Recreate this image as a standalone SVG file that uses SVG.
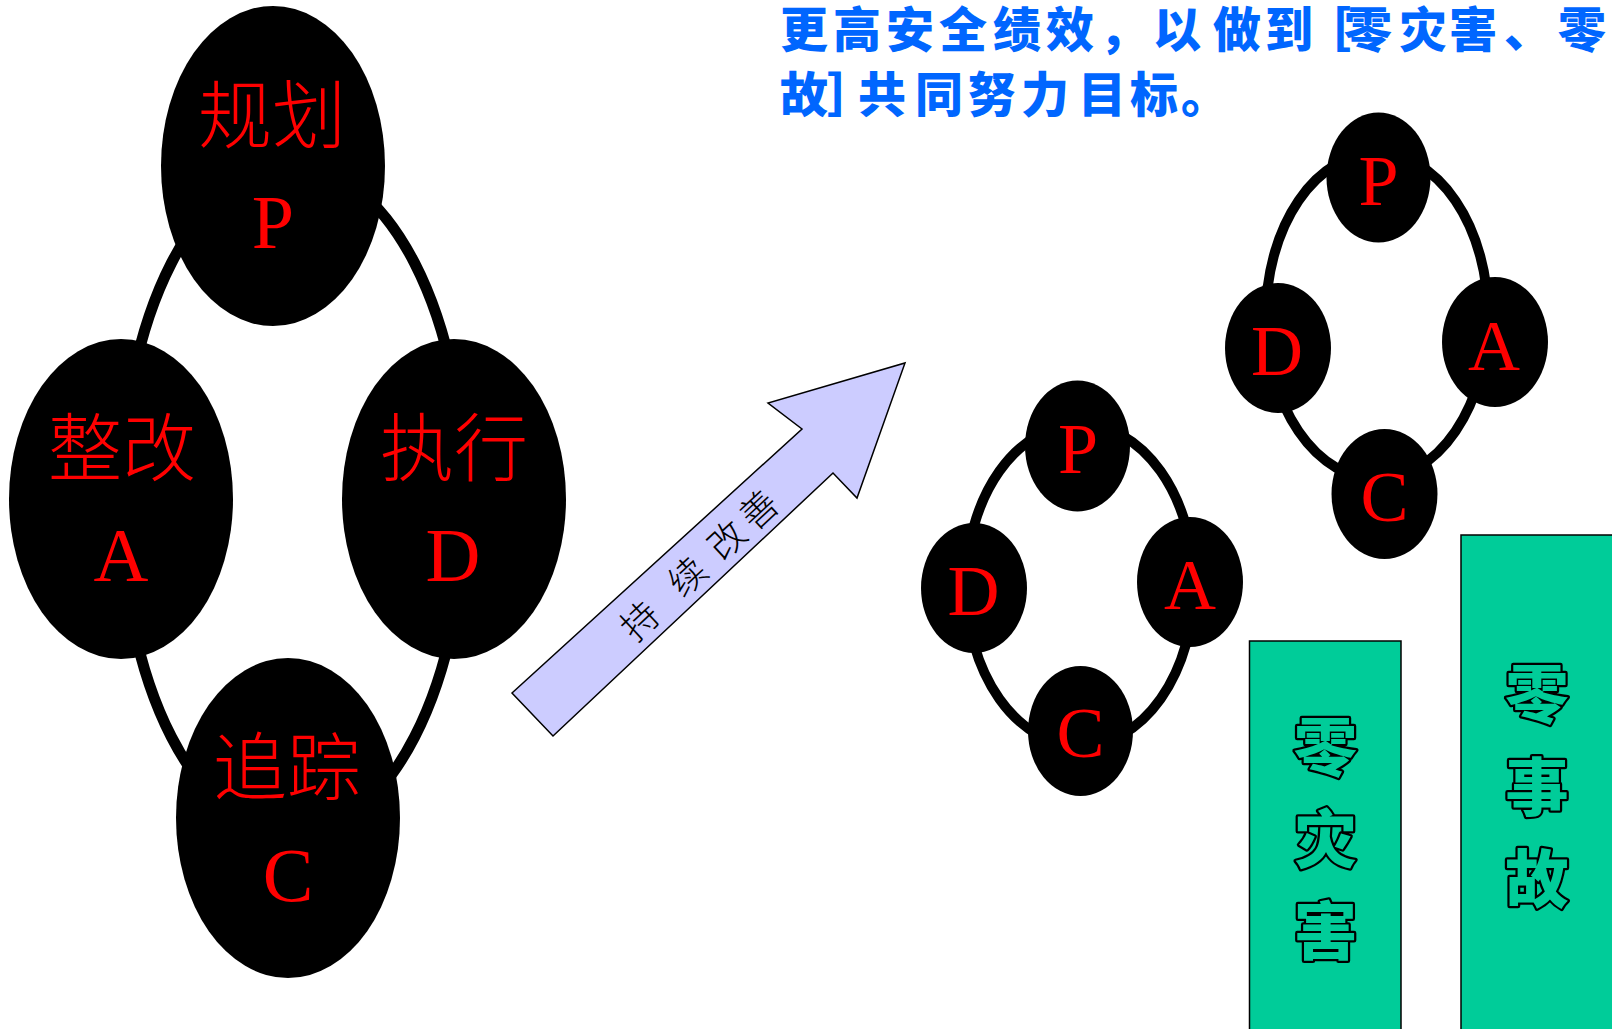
<svg xmlns="http://www.w3.org/2000/svg" width="1612" height="1029" viewBox="0 0 1612 1029">
  <style>
    .bg { fill: #ffffff; }
    .ring { fill: none; stroke: #000000; }
    .node { fill: #000000; }
    .cjk { font-family: "Noto Sans CJK SC", "Noto Sans", sans-serif; font-weight: 300; fill: #ff0000; }
    .lat { font-family: "Liberation Serif", "Times New Roman", serif; fill: #ff0000; text-anchor: middle; }
    .title { font-family: "Noto Sans CJK SC", sans-serif; font-weight: 900; font-size: 48px; fill: #0066ff; }
    .box { fill: #00cc99; stroke: #000000; stroke-width: 1.5; }
    .boxtxt { font-family: "Noto Sans CJK SC", sans-serif; font-weight: 900; font-size: 63px; fill: #00cc99; stroke: #000000; stroke-width: 4.5; stroke-linejoin: round; paint-order: stroke; text-anchor: middle; }
  </style>
  <rect class="bg" x="0" y="0" width="1612" height="1029"/>

  <!-- title text -->
  <g id="title">
    <text class="title" y="47" x="780 833 886 939 993 1046 1099 1153 1213 1265 1303 1344 1399 1449 1504 1558">更高安全绩效，以做到［零灾害、零</text>
    <text class="title" y="112" x="780 827 858 915 968 1021 1078 1130 1181">故］共同努力目标。</text>
  </g>

  <!-- connectors: rings joining the PDCA nodes -->
  <g id="connectors">
    <ellipse class="ring" cx="293" cy="500" rx="172" ry="335" stroke-width="11"/>
    <ellipse class="ring" cx="1080" cy="585" rx="114" ry="161" stroke-width="10"/>
    <ellipse class="ring" cx="1377" cy="316" rx="111" ry="163" stroke-width="10"/>
  </g>

  <!-- big PDCA cycle -->
  <g id="node-plan">
    <ellipse class="node" cx="273" cy="166" rx="112" ry="160"/>
    <text class="cjk" x="272" y="142" font-size="74" text-anchor="middle">规划</text>
    <text class="lat" x="273" y="248" font-size="76">P</text>
  </g>
  <g id="node-act">
    <ellipse class="node" cx="121" cy="499" rx="112" ry="160"/>
    <text class="cjk" x="122" y="475" font-size="74" text-anchor="middle">整改</text>
    <text class="lat" x="121" y="581" font-size="76">A</text>
  </g>
  <g id="node-do">
    <ellipse class="node" cx="454" cy="499" rx="112" ry="160"/>
    <text class="cjk" x="454" y="475" font-size="74" text-anchor="middle">执行</text>
    <text class="lat" x="453" y="581" font-size="76">D</text>
  </g>
  <g id="node-check">
    <ellipse class="node" cx="288" cy="818" rx="112" ry="160"/>
    <text class="cjk" x="287" y="794" font-size="74" text-anchor="middle">追踪</text>
    <text class="lat" x="288" y="901" font-size="76">C</text>
  </g>

  <!-- improvement arrow -->
  <g id="arrow-improve">
    <polygon points="512,693 802,429 768,403 905,363 857,498 833,473 553,736" fill="#ccccff" stroke="#000000" stroke-width="1.5" stroke-linejoin="miter"/>
    <g transform="translate(638,619) rotate(-43)">
      <text x="0 32 65 92 119 163" y="0" font-family="Noto Sans CJK SC, sans-serif" font-weight="300" font-size="37" fill="#000000" text-anchor="middle" dominant-baseline="central">持 续 改善</text>
    </g>
  </g>

  <!-- small cycle 1 -->
  <g id="c1-p">
    <ellipse class="node" cx="1077.5" cy="446" rx="52.5" ry="65.5"/>
    <text class="lat" x="1078" y="473" font-size="72">P</text>
  </g>
  <g id="c1-d">
    <ellipse class="node" cx="974" cy="588" rx="53" ry="65"/>
    <text class="lat" x="973.5" y="615" font-size="72">D</text>
  </g>
  <g id="c1-a">
    <ellipse class="node" cx="1190" cy="582" rx="53" ry="65"/>
    <text class="lat" x="1190" y="609" font-size="72">A</text>
  </g>
  <g id="c1-c">
    <ellipse class="node" cx="1080.5" cy="731" rx="52.5" ry="65"/>
    <text class="lat" x="1080.5" y="757" font-size="72">C</text>
  </g>

  <!-- small cycle 2 -->
  <g id="c2-p">
    <ellipse class="node" cx="1378.5" cy="177.5" rx="52" ry="65"/>
    <text class="lat" x="1378.5" y="205" font-size="72">P</text>
  </g>
  <g id="c2-d">
    <ellipse class="node" cx="1278" cy="348" rx="53" ry="65"/>
    <text class="lat" x="1277" y="375" font-size="72">D</text>
  </g>
  <g id="c2-a">
    <ellipse class="node" cx="1495" cy="342" rx="53" ry="65"/>
    <text class="lat" x="1494" y="370" font-size="72">A</text>
  </g>
  <g id="c2-c">
    <ellipse class="node" cx="1384.5" cy="494" rx="53" ry="65"/>
    <text class="lat" x="1384.5" y="521" font-size="72">C</text>
  </g>

  <!-- zero targets -->
  <g id="zero-disaster">
    <rect class="box" x="1249.5" y="641" width="151.5" height="390"/>
    <text class="boxtxt"><tspan x="1325.5" y="770">零</tspan><tspan x="1325.5" y="862">灾</tspan><tspan x="1325.5" y="954">害</tspan></text>
  </g>
  <g id="zero-accident">
    <rect class="box" x="1461" y="535" width="153" height="496"/>
    <text class="boxtxt"><tspan x="1537" y="717">零</tspan><tspan x="1537" y="810">事</tspan><tspan x="1537" y="902">故</tspan></text>
  </g>
</svg>
